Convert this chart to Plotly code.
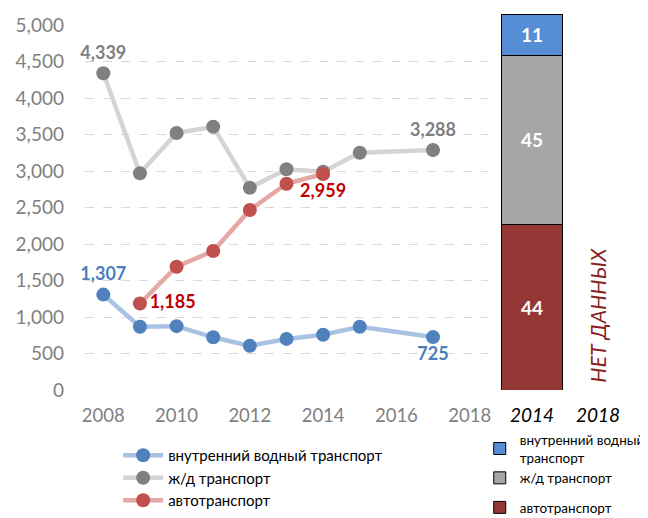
import plotly.graph_objects as go

years_water = [2008, 2009, 2010, 2011, 2012, 2013, 2014, 2015, 2017]
water = [1307, 867, 875, 722, 605, 700, 758, 867, 725]
years_rail = [2008, 2009, 2010, 2011, 2012, 2013, 2014, 2015, 2017]
rail = [4339, 2968, 3520, 3607, 2771, 3023, 2990, 3251, 3288]
years_road = [2009, 2010, 2011, 2012, 2013, 2014]
road = [1185, 1689, 1904, 2466, 2826, 2959]

bar_cats = ["2014", "2018"]
share_water = [11, None]
share_rail = [45, None]
share_road = [44, None]

names = ["внутренний водный транспорт", "ж/д транспорт", "автотранспорт"]
bar_names = ["внутренний водный<br>транспорт", "ж/д транспорт", "автотранспорт"]
y_ticks = [0, 500, 1000, 1500, 2000, 2500, 3000, 3500, 4000, 4500, 5000]

FONT = "Lato"

def labels(vals, keep):
    return [f"{v:,}" if i in keep else "" for i, v in enumerate(vals)]

fig = go.Figure()

fig.add_trace(go.Scatter(
    x=years_water, y=water, name=names[0], mode="lines+markers+text",
    line=dict(color="#a7c2e2", width=4.5), marker=dict(color="#4f81bd", size=14),
    text=labels(water, {0, len(water) - 1}),
    textposition=["top center"] + ["middle center"] * 7 + ["bottom center"],
    textfont=dict(color="#4a7ebb", size=18, weight="bold", family=FONT),
    legend="legend", cliponaxis=False))
fig.add_trace(go.Scatter(
    x=years_rail, y=rail, name=names[1], mode="lines+markers+text",
    line=dict(color="#d4d4d4", width=4.5), marker=dict(color="#808080", size=14),
    text=labels(rail, {0, len(rail) - 1}),
    textposition=["top center"] + ["middle center"] * 7 + ["top center"],
    textfont=dict(color="#7f7f7f", size=18, weight="bold", family=FONT),
    legend="legend", cliponaxis=False))
fig.add_trace(go.Scatter(
    x=years_road, y=road, name=names[2], mode="lines+markers+text",
    line=dict(color="#e6a8a7", width=4.5), marker=dict(color="#c0504d", size=14),
    text=labels(road, {0, len(road) - 1}),
    textposition=["middle right"] + ["middle center"] * 4 + ["bottom center"],
    textfont=dict(color="#c00000", size=18, weight="bold", family=FONT),
    legend="legend", cliponaxis=False))

bar_specs = [(share_road, bar_names[2], "#953735", "b", 3),
             (share_rail, bar_names[1], "#a6a6a6", "a", 2),
             (share_water, bar_names[0], "#558ed5", "a", 1)]
for vals, nm, col, grp, rank in bar_specs:
    fig.add_trace(go.Bar(
        x=bar_cats, y=vals, name=nm, xaxis="x2", yaxis="y2",
        legendgroup=grp, legendrank=rank,
        marker=dict(color=col, line=dict(color="#000000", width=1)),
        width=0.92, text=[str(v) if v is not None else "" for v in vals],
        textposition="inside", insidetextanchor="middle",
        textfont=dict(color="white", size=19, weight="bold", family=FONT),
        legend="legend2"))

fig.add_annotation(x=1, y=20, xref="x2", yref="y2", text="НЕТ ДАННЫХ",
                   textangle=-90, showarrow=False,
                   font=dict(color="#8b1e1e", size=21.5, style="italic", family=FONT))

fig.update_layout(
    width=648, height=518, margin=dict(l=0, r=0, t=0, b=0, autoexpand=False),
    paper_bgcolor="white", plot_bgcolor="white",
    barmode="stack", bargap=0.08,
    font=dict(family=FONT),
    xaxis=dict(domain=[0.1188, 0.7407], range=[2007.5, 2018.5], tickvals=[2008, 2010, 2012, 2014, 2016, 2018],
               showgrid=False, zeroline=False, showline=False,
               tickfont=dict(size=18.5, color="#7f7f7f"), ticklabelstandoff=12),
    yaxis=dict(domain=[0.2625, 0.9672], range=[0, 5000], tickvals=y_ticks, tickformat=",",
               showgrid=True, gridcolor="#d9d9d9", griddash="dash", gridwidth=1,
               zeroline=False, showline=False,
               tickfont=dict(size=19, color="#7f7f7f"), ticklabelstandoff=20),
    xaxis2=dict(domain=[0.7577, 0.9614], anchor="y2", type="category", range=[-0.5, 1.5],
                showgrid=False, showline=False, zeroline=False,
                tickfont=dict(size=19, color="#000000", style="italic"), ticklabelstandoff=12),
    yaxis2=dict(domain=[0.2625, 0.9884], anchor="x2", range=[0, 100], visible=False),
    legend=dict(x=0.170, y=0.168, xanchor="left", yanchor="top", traceorder="normal",
                font=dict(size=15, color="#000000"), bgcolor="rgba(0,0,0,0)",
                itemwidth=40, tracegroupgap=0),
    legend2=dict(x=0.728, y=0.196, xanchor="left", yanchor="top", traceorder="grouped",
                 font=dict(size=13.5, color="#000000"), bgcolor="rgba(0,0,0,0)",
                 itemwidth=30, tracegroupgap=9),
)

fig.write_html("out.html")
